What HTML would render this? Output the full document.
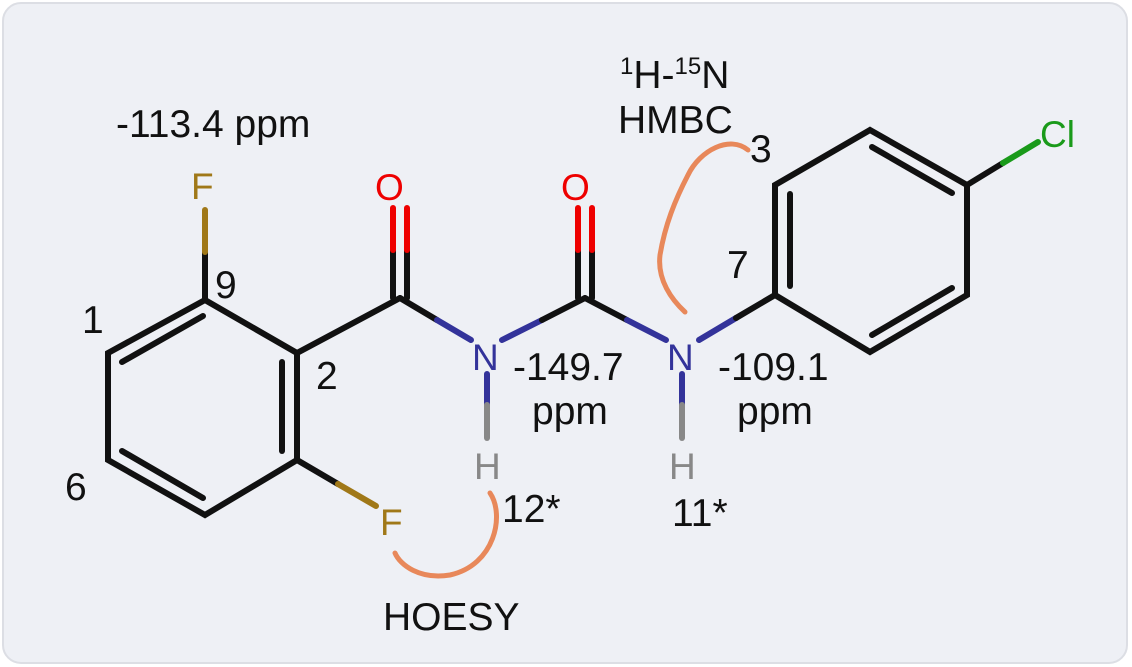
<!DOCTYPE html>
<html><head><meta charset="utf-8"><style>
html,body{margin:0;padding:0;background:#fff;}
svg{display:block;}
text{font-family:"Liberation Sans",Arial,sans-serif;}
</style></head><body>
<svg width="1132" height="667" viewBox="0 0 1132 667">
<rect x="3" y="3" width="1124" height="660" rx="18" fill="#eef0f5" stroke="#dcdee4" stroke-width="2"/>
<g stroke-width="6" stroke-linecap="round" fill="none">
<g stroke="#111">
<polyline points="205,300 297,353 297,460 205,515 108,460 108,353 205,300"/>
<line x1="122" y1="362" x2="203" y2="316"/>
<line x1="282" y1="362" x2="282" y2="451"/>
<line x1="122" y1="451" x2="203" y2="498"/>
<line x1="297" y1="353" x2="400" y2="298"/>
</g>
<line x1="205" y1="300" x2="205" y2="252" stroke="#111"/>
<line x1="205" y1="252" x2="205" y2="210" stroke="#a07818"/>
<line x1="297" y1="460" x2="338" y2="484" stroke="#111"/>
<line x1="338" y1="484" x2="376" y2="506" stroke="#a07818"/>
<line x1="393" y1="298" x2="393" y2="250" stroke="#111"/>
<line x1="407" y1="298" x2="407" y2="250" stroke="#111"/>
<line x1="393" y1="250" x2="393" y2="208" stroke="#e00"/>
<line x1="407" y1="250" x2="407" y2="208" stroke="#e00"/>
<line x1="400" y1="298" x2="437" y2="320" stroke="#111"/>
<line x1="437" y1="320" x2="471" y2="340" stroke="#33339a"/>
<line x1="487" y1="374" x2="487" y2="405" stroke="#33339a"/>
<line x1="487" y1="405" x2="487" y2="438" stroke="#888"/>
<line x1="502" y1="340" x2="542" y2="320" stroke="#33339a"/>
<line x1="542" y1="320" x2="585" y2="298" stroke="#111"/>
<line x1="578" y1="298" x2="578" y2="250" stroke="#111"/>
<line x1="592" y1="298" x2="592" y2="250" stroke="#111"/>
<line x1="578" y1="250" x2="578" y2="208" stroke="#e00"/>
<line x1="592" y1="250" x2="592" y2="208" stroke="#e00"/>
<line x1="585" y1="298" x2="627" y2="320" stroke="#111"/>
<line x1="627" y1="320" x2="666" y2="340" stroke="#33339a"/>
<line x1="682" y1="374" x2="682" y2="405" stroke="#33339a"/>
<line x1="682" y1="405" x2="682" y2="438" stroke="#888"/>
<line x1="699" y1="340" x2="736" y2="318" stroke="#33339a"/>
<line x1="736" y1="318" x2="775" y2="295" stroke="#111"/>
<g stroke="#111">
<polyline points="775,295 775,185 870,130 967,185 967,295 870,352 775,295"/>
<line x1="790" y1="194" x2="790" y2="286"/>
<line x1="872" y1="147" x2="952" y2="193"/>
<line x1="872" y1="335" x2="952" y2="288"/>
<line x1="967" y1="185" x2="1003" y2="163"/>
</g>
<line x1="1003" y1="163" x2="1038" y2="142" stroke="#1a9a1a"/>
<path d="M748,150 C730,135 700,150 688,175 C675,200 665,225 660,255 C657,280 672,300 685,312" stroke="#e8885a" stroke-width="5"/>
<path d="M490,493 C505,515 495,565 450,575 C420,580 400,565 395,553" stroke="#e8885a" stroke-width="5"/>
</g>
<g font-size="37">
<text x="191" y="199" fill="#a07818">F</text>
<text x="380" y="535" fill="#a07818">F</text>
<text x="375" y="200" fill="#e00">O</text>
<text x="561" y="200" fill="#e00">O</text>
<text x="472" y="370" fill="#33339a">N</text>
<text x="667" y="370" fill="#33339a">N</text>
<text x="474" y="479" fill="#888">H</text>
<text x="669" y="479" fill="#888">H</text>
<text x="1040" y="147" fill="#1a9a1a">Cl</text>
</g>
<g font-size="39" fill="#111">
<text x="116" y="137">-113.4 ppm</text>
<text x="215" y="298">9</text>
<text x="82" y="333">1</text>
<text x="316" y="389">2</text>
<text x="65" y="500">6</text>
<text x="513" y="380">-149.7</text>
<text x="532" y="424">ppm</text>
<text x="718" y="380">-109.1</text>
<text x="737" y="424">ppm</text>
<text x="502" y="522">12*</text>
<text x="672" y="526">11*</text>
<text x="727" y="278">7</text>
<text x="750" y="162">3</text>
<text x="620" y="88"><tspan font-size="24" dy="-14">1</tspan><tspan dy="14">H-</tspan><tspan font-size="24" dy="-14">15</tspan><tspan dy="14">N</tspan></text>
<text x="618" y="133">HMBC</text>
<text x="383" y="630">HOESY</text>
</g>
</svg>
</body></html>
